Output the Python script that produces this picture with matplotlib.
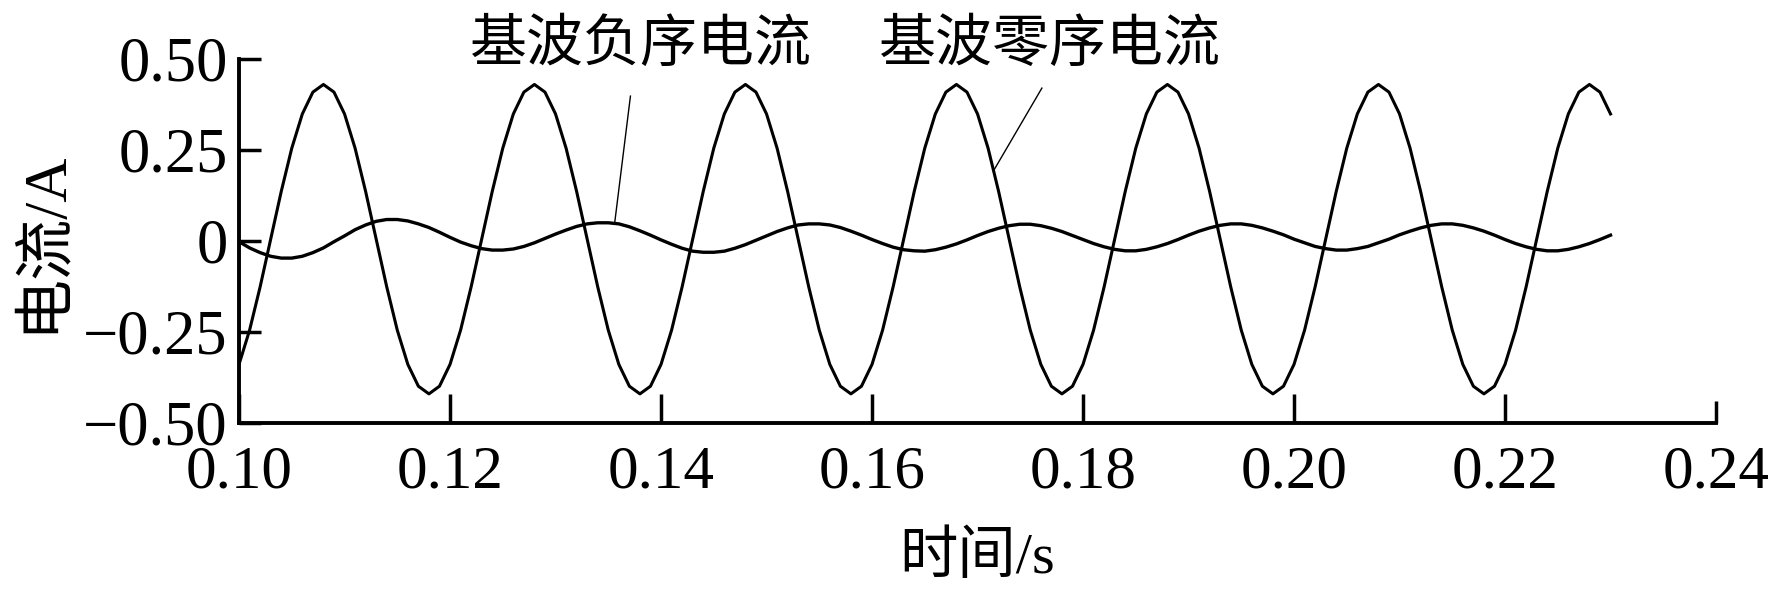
import numpy as np
import matplotlib
matplotlib.use('Agg')
import matplotlib.pyplot as plt

plt.rcParams['font.family'] = ['Liberation Serif', 'Noto Sans CJK SC']

# time axis, 1 ms steps from 0.100 s to 0.230 s
t_start = 0.100
t_step = 0.001

# fundamental zero-sequence current (large wave)
zero_seq = [
    -0.339, -0.245, -0.126, 0.005, 0.136, 0.255, 0.349, 0.409, 0.430, 0.409,
    0.349, 0.255, 0.136, 0.005, -0.126, -0.245, -0.339, -0.399, -0.420, -0.399,
    -0.339, -0.245, -0.126, 0.005, 0.136, 0.255, 0.349, 0.409, 0.430, 0.409,
    0.349, 0.255, 0.136, 0.005, -0.126, -0.245, -0.339, -0.399, -0.420, -0.399,
    -0.339, -0.245, -0.126, 0.005, 0.136, 0.255, 0.349, 0.409, 0.430, 0.409,
    0.349, 0.255, 0.136, 0.005, -0.126, -0.245, -0.339, -0.399, -0.420, -0.399,
    -0.339, -0.245, -0.126, 0.005, 0.136, 0.255, 0.349, 0.409, 0.430, 0.409,
    0.349, 0.255, 0.136, 0.005, -0.126, -0.245, -0.339, -0.399, -0.420, -0.399,
    -0.339, -0.245, -0.126, 0.005, 0.136, 0.255, 0.349, 0.409, 0.430, 0.409,
    0.349, 0.255, 0.136, 0.005, -0.126, -0.245, -0.339, -0.399, -0.420, -0.399,
    -0.339, -0.245, -0.126, 0.005, 0.136, 0.255, 0.349, 0.409, 0.430, 0.409,
    0.349, 0.255, 0.136, 0.005, -0.126, -0.245, -0.339, -0.399, -0.420, -0.399,
    -0.339, -0.245, -0.126, 0.005, 0.136, 0.255, 0.349, 0.409, 0.430, 0.409,
    0.349,
]

# fundamental negative-sequence current (small wave)
neg_seq = [
    -0.002, -0.019, -0.032, -0.042, -0.047,
    -0.047, -0.042, -0.032, -0.019, -0.002, 0.014, 0.031, 0.044, 0.054, 0.059,
    0.059, 0.055, 0.047, 0.037, 0.024, 0.010, -0.003, -0.013, -0.021, -0.025,
    -0.025, -0.022, -0.015, -0.005, 0.007, 0.019, 0.030, 0.040, 0.047, 0.050,
    0.050, 0.047, 0.039, 0.028, 0.016, 0.003, -0.009, -0.020, -0.028, -0.031,
    -0.031, -0.028, -0.020, -0.010, 0.002, 0.014, 0.026, 0.036, 0.044, 0.047,
    0.047, 0.044, 0.037, 0.027, 0.016, 0.004, -0.007, -0.017, -0.024, -0.027,
    -0.028, -0.024, -0.017, -0.008, 0.003, 0.015, 0.026, 0.035, 0.042, 0.046,
    0.046, 0.042, 0.035, 0.026, 0.015, 0.004, -0.007, -0.016, -0.023, -0.027,
    -0.027, -0.023, -0.016, -0.007, 0.004, 0.016, 0.027, 0.036, 0.043, 0.047,
    0.047, 0.043, 0.036, 0.027, 0.017, 0.005, -0.005, -0.015, -0.021, -0.025,
    -0.025, -0.021, -0.015, -0.005, 0.005, 0.017, 0.027, 0.036, 0.043, 0.047,
    0.047, 0.043, 0.036, 0.027, 0.016, 0.004, -0.007, -0.016, -0.023, -0.027,
    -0.027, -0.023, -0.016, -0.007, 0.004, 0.016,
]

t = t_start + t_step * np.arange(len(zero_seq))

x_ticks = [0.10, 0.12, 0.14, 0.16, 0.18, 0.20, 0.22, 0.24]
x_labels = ['0.10', '0.12', '0.14', '0.16', '0.18', '0.20', '0.22', '0.24']
y_ticks = [-0.50, -0.25, 0, 0.25, 0.50]
y_labels = ['\u22120.50', '\u22120.25', '0', '0.25', '0.50']

neg_label = '基波负序电流'
zero_label = '基波零序电流'

fig = plt.figure(figsize=(17.68, 5.94), dpi=100)
ax = fig.add_axes([0.1352, 0.2879, 0.8354, 0.6128])

ax.plot(t, zero_seq, color='black', lw=2.2, solid_joinstyle='round')
ax.plot(t, neg_seq, color='black', lw=2.4, solid_joinstyle='round')

ax.set_xlim(0.10, 0.24)
ax.set_ylim(-0.5, 0.5)
ax.spines['top'].set_visible(False)
ax.spines['right'].set_visible(False)
ax.spines['left'].set_linewidth(2.8)
ax.spines['bottom'].set_linewidth(2.8)

ax.set_xticks(x_ticks)
ax.set_xticklabels(x_labels)
ax.set_yticks(y_ticks)
ax.set_yticklabels(y_labels)
ax.tick_params(axis='x', direction='in', length=21, width=2.5, pad=16, labelsize=44)
ax.tick_params(axis='y', direction='in', length=16, width=2.5, pad=8, labelsize=45)
ax.xaxis.get_major_ticks()[-1].tick1line.set_markersize(16)

ax.set_xlabel('时间/s', fontsize=42, labelpad=22)
ax.set_ylabel('电流/A', fontsize=44, labelpad=8)

# labels with leader lines
ax.text(0.1381, 0.535, neg_label, fontsize=41, ha='center', va='center')
ax.text(0.1769, 0.535, zero_label, fontsize=41, ha='center', va='center')
ax.plot([0.1371, 0.1356], [0.398, 0.048], color='black', lw=1.0, clip_on=False)
ax.plot([0.1761, 0.1716], [0.420, 0.197], color='black', lw=1.0, clip_on=False)

fig.savefig('out.png', dpi=100)
